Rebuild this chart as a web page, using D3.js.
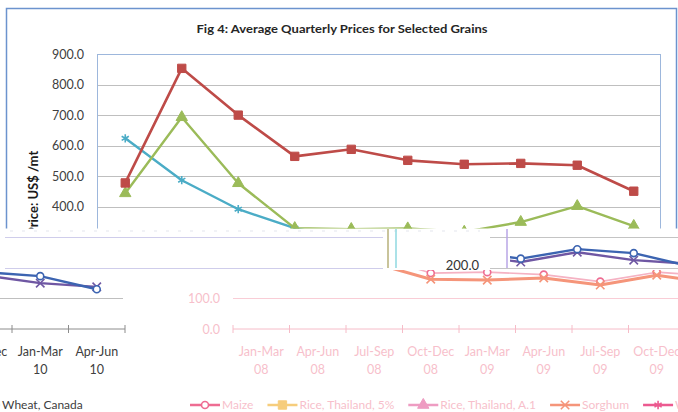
<!DOCTYPE html>
<html><head><meta charset="utf-8">
<script src="https://cdn.jsdelivr.net/npm/d3@7"></script>
<style>body{margin:0;background:#fff;}svg{display:block;}text{font-family:Lato,"Open Sans",sans-serif;}</style>
</head><body>
<svg id="c" width="678" height="412"></svg>
<script>
// ---------------- data ----------------
const categories = ["Jan-Mar 08","Apr-Jun 08","Jul-Sep 08","Oct-Dec 08","Jan-Mar 09","Apr-Jun 09","Jul-Sep 09","Oct-Dec 09","Jan-Mar 10","Apr-Jun 10"];
const seriesNames = ["Maize","Rice, Thailand, 5%","Rice, Thailand, A.1","Sorghum","Wheat, Canada"];
const maize       = [235, 270, 240, 183, 186, 178, 155, 186, 173, 130];
const rice5       = [478, 853, 700, 565, 588, 552, 539, 542, 536, 451];
const riceA1      = [444, 693, 477, 330, 327, 329, 318, 350, 402, 337];
const sorghum     = [200, 230, 215, 163, 160, 167, 144, 176, 150, 138];
const wheatCanada = [624, 487, 392, 330, 292, 282, 270, 252, 242, 250];
const yTicks = [0, 100, 200, 300, 400, 500, 600, 700, 800, 900];
const chartTitle = "Fig 4: Average Quarterly Prices for Selected Grains";
const yTitle = "Price: US$ /mt";

// ---------------- setup ----------------
const svg = d3.select("#c");
const defs = svg.append("defs");
function clip(id, rects){
  const cp = defs.append("clipPath").attr("id", id);
  rects.forEach(r => cp.append("rect").attr("x", r[0]).attr("y", r[1]).attr("width", r[2]).attr("height", r[3]));
  return "url(#" + id + ")";
}
const x = d3.scaleBand().domain(categories).range([97, 662]);
const y = d3.scaleLinear().domain([0, 900]).range([329, 54]);
const cx = c => x(c) + x.bandwidth() / 2;
const allValues = [maize, rice5, riceA1, sorghum, wheatCanada];
const symbols = [d3.symbolCircle, d3.symbolSquare, d3.symbolTriangle, d3.symbolX, d3.symbolAsterisk];
const symSize = [38, 70, 56, 48, 48];

const normal = {
  text: "#404040", grid: "#BFBFBF", axis: "#8C8C8C", plotBorder: "#9DB7DC",
  colors: ["#3C64B1", "#BE4B48", "#9BBB59", "#6F57A3", "#4BACC6"],
  widths: [2.4, 2.6, 2.4, 2.4, 2.4]
};
const pink = {
  text: "#F7BFCB", grid: "#F9CDD6", axis: "#F6BCC8", plotBorder: "#F9CDD6",
  colors: ["#EE6C92", "#F6CD7C", "#EE9CC2", "#F5957A", "#EC5A90"],
  lineColors: ["#F5B2C3", "#F6CD7C", "#EE9CC2", "#F5957A", "#EC5A90"],
  widths: [1.6, 2, 2, 3, 2]
};

function drawSeries(g, theme, idx){
  idx.forEach(i => {
    const vals = allValues[i];
    const col = theme.colors[i];
    const lc = theme.lineColors ? theme.lineColors[i] : col;
    const line = d3.line().x((d, k) => cx(categories[k])).y(d => y(d));
    g.append("path").datum(vals).attr("d", line).attr("fill", "none")
      .attr("stroke", lc).attr("stroke-width", theme.widths[i]).attr("stroke-linejoin", "round");
    const sym = d3.symbol().type(symbols[i]).size(symSize[i]);
    const stroked = (i === 0 || i === 3 || i === 4);
    g.selectAll(null).data(vals).join("path")
      .attr("transform", (d, k) => `translate(${cx(categories[k])},${y(d)})`)
      .attr("d", sym)
      .attr("fill", i === 0 ? "#fff" : (stroked ? "none" : col))
      .attr("stroke", col).attr("stroke-width", stroked ? 1.6 : 1);
  });
}

function drawChart(g, theme, o){
  if (o.frame){
    g.append("rect").attr("x", 6.5).attr("y", 8.5).attr("width", 670).attr("height", 396)
      .attr("fill", "none").attr("stroke", "#6C93CE").attr("stroke-width", 1.5);
    g.append("text").attr("x", 342).attr("y", 33).attr("text-anchor", "middle")
      .attr("font-size", 11.5).attr("font-weight", "bold").attr("fill", "#262626")
      .attr("textLength", 291).attr("lengthAdjust", "spacingAndGlyphs").text(chartTitle);
    g.append("text").attr("transform", "translate(38,193) rotate(-90)").attr("text-anchor", "middle")
      .attr("font-size", 13).attr("font-weight", "bold").attr("fill", "#1a1a1a").text(yTitle);
  }
  if (o.grid){
    g.selectAll(null).data(yTicks.slice(1)).join("line")
      .attr("x1", 97).attr("x2", 660).attr("y1", d => Math.round(y(d)) + 0.5).attr("y2", d => Math.round(y(d)) + 0.5)
      .attr("stroke", theme.grid).attr("stroke-width", 1);
  }
  if (o.plotBorder){
    g.append("rect").attr("x", 97.5).attr("y", Math.round(y(900)) + 0.5).attr("width", 563).attr("height", y(0) - y(900))
      .attr("fill", "none").attr("stroke", theme.plotBorder).attr("stroke-width", 1);
  }
  if (o.yLabels){
    g.selectAll(null).data(yTicks).join("text")
      .attr("x", 84).attr("y", d => y(d) + 4.5).attr("text-anchor", "end")
      .attr("font-size", 12.5).attr("fill", theme.text).text(d => d3.format(".1f")(d));
  }
  if (o.xAxis){
    const ax = g.append("g");
    ax.append("line").attr("x1", 97).attr("x2", 662).attr("y1", y(0)).attr("y2", y(0))
      .attr("stroke", theme.axis).attr("stroke-width", 1);
    const bounds = categories.map(c => x(c)).concat([x.range()[1]]);
    ax.selectAll(null).data(bounds).join("line")
      .attr("x1", d => d).attr("x2", d => d).attr("y1", y(0) - 4).attr("y2", y(0) + 4)
      .attr("stroke", theme.axis).attr("stroke-width", 1);
    const lab = ax.selectAll(null).data(categories).join("text")
      .attr("text-anchor", "middle").attr("font-size", 12.5).attr("fill", theme.text);
    lab.append("tspan").attr("x", c => cx(c)).attr("y", 356).text(c => c.split(" ")[0]);
    lab.append("tspan").attr("x", c => cx(c)).attr("y", 374).text(c => c.split(" ")[1]);
  }
  if (o.series) drawSeries(g, theme, o.series);
  if (o.legend){
    let x0 = 54;
    seriesNames.forEach((name, i) => {
      const lg = g.append("g");
      const col = theme.colors[i];
      lg.append("line").attr("x1", x0).attr("x2", x0 + 30).attr("y1", 405).attr("y2", 405)
        .attr("stroke", col).attr("stroke-width", 2.4);
      const stroked = (i === 0 || i === 3 || i === 4);
      lg.append("path").attr("transform", `translate(${x0 + 15},405)`)
        .attr("d", d3.symbol().type(symbols[i]).size(symSize[i]))
        .attr("fill", i === 0 ? "#fff" : (stroked ? "none" : col)).attr("stroke", col).attr("stroke-width", stroked ? 1.6 : 1);
      const t = lg.append("text").attr("x", x0 + 32).attr("y", 409).attr("font-size", 12)
        .attr("fill", theme.text).text(name);
      x0 += 32 + t.node().getComputedTextLength() + 14;
    });
  }
}

// ---- faint pink layer (shifted chart) ----
const pinkOuter = svg.append("g").attr("clip-path", clip("cpPink", [[170, 285, 210, 127], [380, 270, 298, 142]]));
const pinkG = pinkOuter.append("g").attr("transform", "translate(136,0)");
drawChart(pinkG, pink, {grid: true, yLabels: true, xAxis: true, series: [0, 3], legend: true});

// ---- left fragment (shifted chart) ----
const leftOuter = svg.append("g").attr("clip-path", clip("cpLeft", [[0, 270, 132, 142]]));
const leftG = leftOuter.append("g").attr("transform", "translate(-537,0)");
drawChart(leftG, normal, {grid: true, xAxis: true, series: [3, 0], legend: true});

// ---- glitch band: gridlines 300 / 200 ----
const band = svg.append("g");
[300, 200].forEach(v => {
  band.append("line").attr("x1", 5).attr("x2", 383).attr("y1", Math.round(y(v)) + 0.5).attr("y2", Math.round(y(v)) + 0.5)
    .attr("stroke", "#CFCDEB").attr("stroke-width", 1.2);
  band.append("line").attr("x1", 490).attr("x2", 678).attr("y1", Math.round(y(v)) + 0.5).attr("y2", Math.round(y(v)) + 0.5)
    .attr("stroke", "#C4C4C4").attr("stroke-width", 1);
});
band.append("line").attr("x1", 10).attr("x2", 480).attr("y1", 231).attr("y2", 231)
  .attr("stroke", "#E4E6EE").attr("stroke-width", 1.2).attr("stroke-dasharray", "3,9");
[[388, "#B7B07A"], [396, "#8FD8E0"], [507, "#B9A6E6"]].forEach(([xx, c]) =>
  band.append("line").attr("x1", xx).attr("x2", xx).attr("y1", 229).attr("y2", y(200))
    .attr("stroke", c).attr("stroke-width", 1.5));
band.append("text").attr("x", 479).attr("y", y(200) + 2).attr("text-anchor", "end")
  .attr("font-size", 13).attr("fill", "#333").text(d3.format(".1f")(200));

// ---- lower-right block (shifted series) ----
const lrOuter = svg.append("g").attr("clip-path", clip("cpLR", [[510, 228.5, 168, 39.5]]));
const lrG = lrOuter.append("g").attr("transform", "translate(56.5,-23)");
drawSeries(lrG, normal, [3, 0]);

// ---- main chart (upper part) ----
const mainOuter = svg.append("g").attr("clip-path", clip("cpMain", [[0, 0, 678, 228.5]]));
drawChart(mainOuter, normal, {frame: true, grid: true, plotBorder: true, yLabels: true, series: [0, 3, 4, 2, 1]});
</script>
</body></html>
